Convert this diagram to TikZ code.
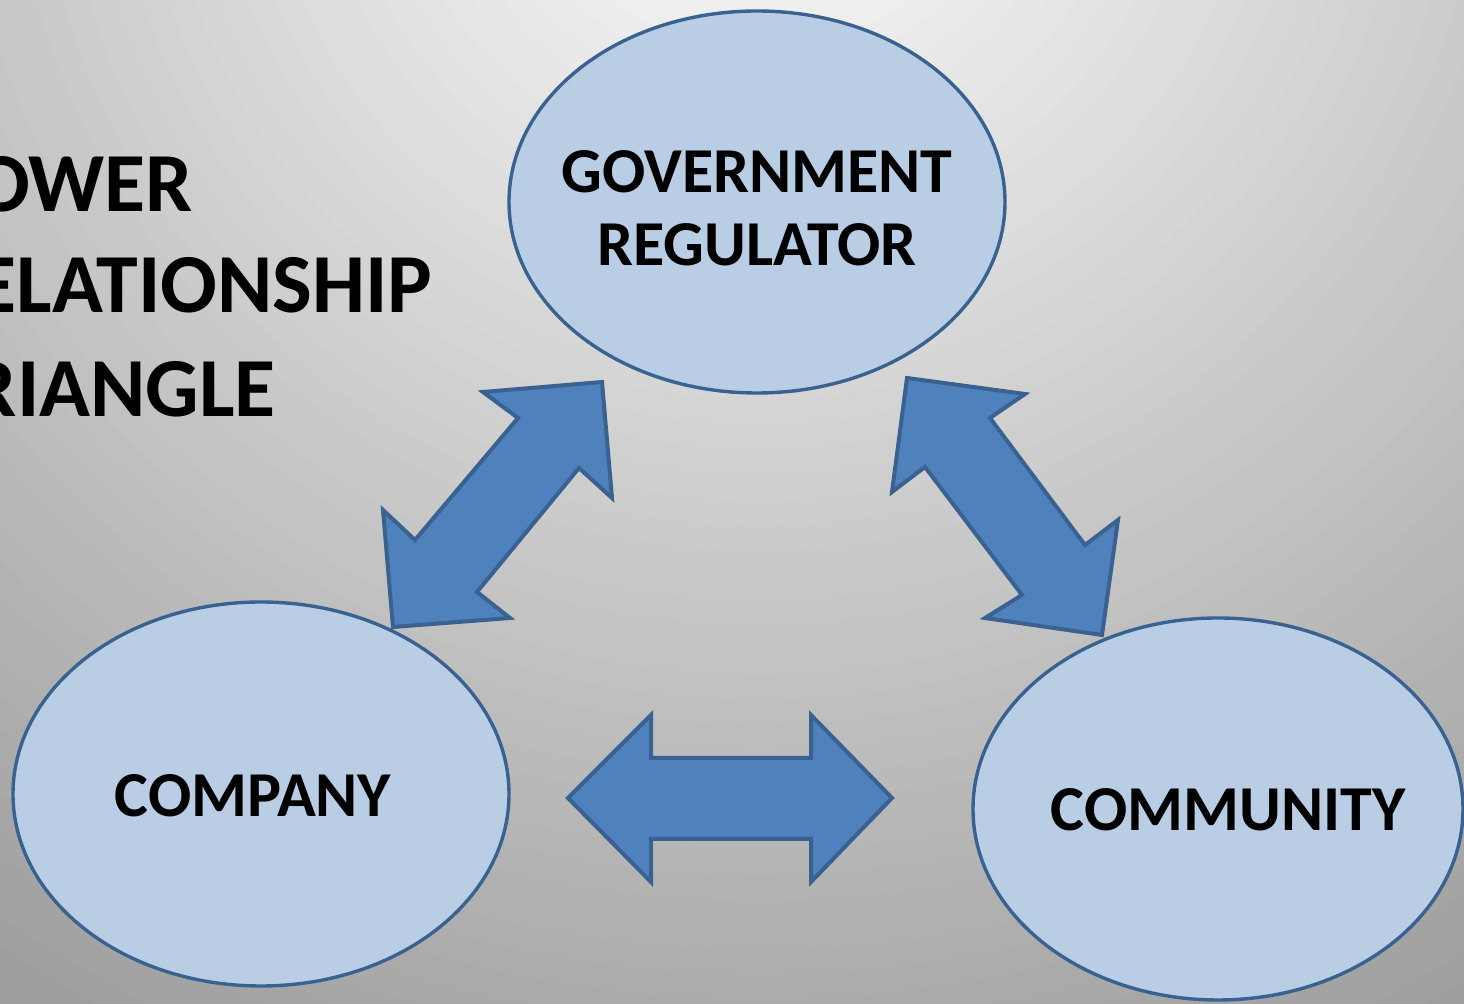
\documentclass[tikz,border=0pt]{standalone}
\usepackage{fontspec}
\setmainfont{Carlito}
\usetikzlibrary{shapes.geometric}
\definecolor{bubblefill}{HTML}{B9CDE5}
\definecolor{edge}{HTML}{3A6291}
\definecolor{arrowfill}{HTML}{4F81BD}
\definecolor{bgout}{HTML}{999999}
\tikzset{
  bubble/.style={ellipse, draw=edge, fill=bubblefill, line width=1.7pt, inner sep=0pt},
  lbl/.style={font=\bfseries\fontsize{32}{38}\selectfont, anchor=base, inner sep=0pt},
  title/.style={font=\bfseries\fontsize{42}{51}\selectfont, anchor=base west, inner sep=0pt},
  blockarrow/.style={draw=edge, fill=arrowfill, line width=2pt, line join=miter}
}
\begin{document}
\begin{tikzpicture}[x=0.5pt,y=-0.5pt]
\useasboundingbox (0,0) rectangle (1464,1004);
\begin{scope}
  \clip (0,0) rectangle (1464,1004);
  \fill[bgout] (0,0) rectangle (1464,1004);
  \foreach \r in {1475,1450,...,25} {
    \pgfmathsetmacro\p{\r/14.78}
    \fill[bgout!\p!white] (760,-200) circle[radius=\r*0.5pt];
  }
  % title (clipped at the left edge, as in the reference)
  \node[title] (t1) at (-72,212) {POWER};
  \node[title] (t2) at (-72,313) {RELATIONSHIP};
  \node[title] (t3) at (-72,417) {TRIANGLE};
\end{scope}
% bubbles
\node[bubble, minimum width=248pt, minimum height=191pt] (gov) at (757,202) {};
\node[bubble, minimum width=248pt, minimum height=192pt] (comp) at (261,794) {};
\node[bubble, minimum width=245pt, minimum height=191pt] (comm) at (1218,809) {};
\node[lbl] (g1) at (757,193) {GOVERNMENT};
\node[lbl] (g2) at (757,266) {REGULATOR};
\node[lbl] (c1) at (253,817) {COMPANY};
\node[lbl] (c2) at (1228,831) {COMMUNITY};
% block arrows
\draw[blockarrow] (602,382) -- (612,498) -- (579,468) -- (477,592) -- (510,618)
  -- (393,627) -- (383,510) -- (415,540) -- (518,418) -- (483,392) -- cycle;
\draw[blockarrow] (907,378) -- (1025,394) -- (990,418) -- (1085,545) -- (1118,520)
  -- (1102,635) -- (985,618) -- (1022,595) -- (925,467) -- (892,492) -- cycle;
\draw[blockarrow] (568,798) -- (651,715) -- (651,758) -- (811,758) -- (811,715)
  -- (892,798) -- (811,882) -- (811,839) -- (651,839) -- (651,882) -- cycle;
\end{tikzpicture}
\end{document}
